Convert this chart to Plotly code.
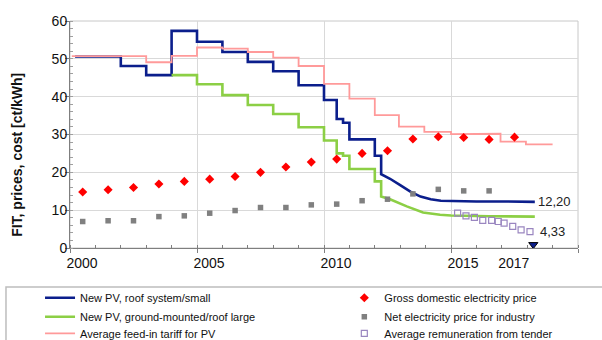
import plotly.graph_objects as go

# ---- data ----
roof_x = [2000.2, 2002.0, 2002.0, 2003.0, 2003.0, 2004.0, 2004.0, 2005.0, 2005.0, 2006.0, 2006.0,
          2007.0, 2007.0, 2008.0, 2008.0, 2009.0, 2009.0, 2010.0, 2010.0, 2010.5, 2010.5, 2010.75,
          2010.75, 2011.0, 2011.0, 2012.0, 2012.0, 2012.25, 2012.25, 2012.6, 2013.0, 2013.4,
          2013.8, 2014.2, 2014.6, 2015.0, 2016.0, 2017.0, 2018.3]
roof_y = [50.6, 50.6, 48.1, 48.1, 45.7, 45.7, 57.4, 57.4, 54.5, 54.5, 51.8,
          51.8, 49.2, 49.2, 46.7, 46.7, 43.0, 43.0, 39.1, 39.1, 34.1, 34.1,
          33.1, 33.1, 28.7, 28.7, 24.4, 24.4, 19.5, 18.3, 16.6, 14.9,
          13.6, 12.9, 12.5, 12.4, 12.3, 12.3, 12.2]

ground_x = [2004.0, 2005.0, 2005.0, 2006.0, 2006.0, 2007.0, 2007.0, 2008.0, 2008.0, 2009.0, 2009.0,
            2010.0, 2010.0, 2010.5, 2010.5, 2010.75, 2010.75, 2011.0, 2011.0, 2012.0, 2012.0,
            2012.25, 2012.25, 2012.6, 2013.26, 2013.9, 2014.57, 2015.0, 2016.5, 2018.3]
ground_y = [45.7, 45.7, 43.3, 43.3, 40.4, 40.4, 37.8, 37.8, 35.4, 35.4, 31.9,
            31.9, 28.4, 28.4, 25.0, 25.0, 24.4, 24.4, 20.9, 20.9, 17.6,
            17.6, 13.6, 12.9, 11.0, 9.4, 8.8, 8.6, 8.4, 8.3]

fit_x = [2000.07, 2003.0, 2003.0, 2004.0, 2004.0, 2005.0, 2005.0, 2006.0, 2006.0, 2007.0, 2007.0,
         2008.0, 2008.0, 2009.0, 2009.0, 2010.0, 2010.0, 2011.0, 2011.0, 2012.0, 2012.0,
         2012.95, 2012.95, 2013.95, 2013.95, 2015.0, 2015.0, 2015.95, 2015.95, 2016.95, 2016.95,
         2017.95, 2017.95, 2019.0]
fit_y = [50.7, 50.7, 49.1, 49.1, 50.8, 50.8, 53.0, 53.0, 52.7, 52.7, 51.8,
         51.8, 50.3, 50.3, 48.1, 48.1, 43.4, 43.4, 39.5, 39.5, 35.1,
         35.1, 32.1, 32.1, 30.7, 30.7, 30.1, 30.1, 30.2, 30.2, 28.1,
         28.1, 27.4, 27.4]

gross_x = [2000.5, 2001.5, 2002.5, 2003.5, 2004.5, 2005.5, 2006.5, 2007.5, 2008.5,
           2009.5, 2010.5, 2011.5, 2012.5, 2013.5, 2014.5, 2015.5, 2016.5, 2017.5]
gross_y = [14.8, 15.4, 16.0, 16.9, 17.6, 18.2, 18.9, 20.0, 21.4,
           22.7, 23.5, 25.0, 25.7, 28.8, 29.4, 29.2, 28.7, 29.3]

net_x = [2000.5, 2001.5, 2002.5, 2003.5, 2004.5, 2005.5, 2006.5, 2007.5, 2008.5,
         2009.5, 2010.5, 2011.5, 2012.5, 2013.5, 2014.5, 2015.5, 2016.5]
net_y = [7.0, 7.2, 7.2, 8.3, 8.5, 9.2, 9.9, 10.7, 10.7,
         11.4, 11.6, 12.5, 12.9, 14.3, 15.5, 15.1, 15.1]

tender_x = [2015.26, 2015.59, 2015.92, 2016.25, 2016.6, 2016.86, 2017.09, 2017.43, 2017.76, 2018.11]
tender_y = [9.2, 8.5, 8.1, 7.3, 7.3, 7.0, 6.6, 5.7, 4.8, 4.33]

marker_x = [2018.24]
marker_y = [0.9]

x_label_vals = [2000, 2005, 2010, 2015, 2017]
x_label_text = ["2000", "2005", "2010", "2015", "2017"]
x_grid_vals = [2000, 2005, 2010, 2015, 2020]

NAVY = "#0B1E8C"
GREEN = "#8CCF45"
PINK = "#FF9A9A"
RED = "#FF0000"
GRAY = "#808080"
PURPLE = "#9A86C0"

fig = go.Figure()
fig.add_trace(go.Scatter(x=roof_x, y=roof_y, mode="lines", name="New PV, roof system/small",
                         line=dict(color=NAVY, width=2.6), legend="legend"))
fig.add_trace(go.Scatter(x=ground_x, y=ground_y, mode="lines", name="New PV, ground-mounted/roof large",
                         line=dict(color=GREEN, width=2.6), legend="legend2"))
fig.add_trace(go.Scatter(x=fit_x, y=fit_y, mode="lines", name="Average feed-in tariff for PV",
                         line=dict(color=PINK, width=1.8), legend="legend3"))
fig.add_trace(go.Scatter(x=gross_x, y=gross_y, mode="markers", name="Gross domestic electricity price",
                         marker=dict(symbol="diamond", color=RED, size=7), legend="legend4"))
fig.add_trace(go.Scatter(x=net_x, y=net_y, mode="markers", name="Net electricity price for industry",
                         marker=dict(symbol="square", color=GRAY, size=5.5), legend="legend5"))
fig.add_trace(go.Scatter(x=tender_x, y=tender_y, mode="markers", name="Average remuneration from tender",
                         marker=dict(symbol="square-open", color=PURPLE, size=6, line=dict(width=1.2)),
                         legend="legend6"))
fig.add_trace(go.Scatter(x=marker_x, y=marker_y, mode="markers", showlegend=False,
                         marker=dict(symbol="triangle-down", color=NAVY, size=8,
                                     line=dict(color="#000000", width=1))))
# dummy trace to activate xaxis2 (5-year grid and ticks)
fig.add_trace(go.Scatter(x=[2000], y=[None], xaxis="x2", showlegend=False, hoverinfo="skip"))

fig.add_annotation(x=roof_x[-1] + 0.05, y=roof_y[-1], text="12,20", showarrow=False,
                   xanchor="left", yanchor="middle", font=dict(size=13, color="#222222"))
fig.add_annotation(x=tender_x[-1] + 0.3, y=tender_y[-1], text="4,33", showarrow=False,
                   xanchor="left", yanchor="middle", font=dict(size=13, color="#222222"))

fig.add_annotation(x=-0.104, y=0.411, xref="paper", yref="paper", text="<b>FIT, prices, cost [ct/kWh]</b>",
                   textangle=-90, showarrow=False, xanchor="center", yanchor="middle",
                   font=dict(size=14, color="#111111"))

# frame (top/right) and legend box
fig.add_shape(type="rect", xref="paper", yref="paper", x0=0, x1=1, y0=0, y1=1,
              line=dict(color="#C8C8C8", width=1), layer="below")
fig.add_shape(type="rect", xref="paper", yref="paper", x0=-0.126, x1=1.06, y0=-0.45, y1=-0.172,
              line=dict(color="#BDBDBD", width=1.5))

leg_common = dict(orientation="v", xanchor="left", yanchor="middle", bgcolor="rgba(0,0,0,0)",
                  font=dict(size=11))
col_x = [-0.059, 0.540]
row_y = [-0.219, -0.303, -0.376]

fig.update_layout(
    width=602, height=340,
    margin=dict(l=70, r=24, t=21, b=92, autoexpand=False),
    paper_bgcolor="white", plot_bgcolor="white",
    font=dict(family="Liberation Sans, Arial, sans-serif", color="#111111"),
    showlegend=True,
    legend=dict(x=col_x[0], y=row_y[0], **leg_common),
    legend2=dict(x=col_x[0], y=row_y[1], **leg_common),
    legend3=dict(x=col_x[0], y=row_y[2], **leg_common),
    legend4=dict(x=col_x[1], y=row_y[0], **leg_common),
    legend5=dict(x=col_x[1], y=row_y[1], **leg_common),
    legend6=dict(x=col_x[1], y=row_y[2], **leg_common),
    xaxis=dict(range=[2000, 2020], tickmode="array", tickvals=x_label_vals, ticktext=x_label_text,
               ticks="", showgrid=False, showline=True, linecolor="#7F7F7F", linewidth=1,
               tickfont=dict(size=14), ticklabelshift=12, ticklabelstandoff=2, zeroline=False,
               minor=dict(dtick=1, tick0=2000, ticks="inside", ticklen=3, tickcolor="#7F7F7F",
                          showgrid=False)),
    xaxis2=dict(range=[2000, 2020], overlaying="x", tickmode="array", tickvals=x_grid_vals,
                showticklabels=False, ticks="outside", ticklen=4, tickcolor="#7F7F7F",
                showgrid=True, gridcolor="#D9D9D9", gridwidth=1,
                showline=False, zeroline=False, side="bottom"),
    yaxis=dict(range=[0, 60], dtick=10, ticks="outside", ticklen=4, tickcolor="#7F7F7F",
               showgrid=True, gridcolor="#D9D9D9", gridwidth=1, showline=True, linecolor="#7F7F7F",
               linewidth=1, tickfont=dict(size=14), zeroline=False, ticklabelstandoff=-5,
               minor=dict(dtick=2, ticks="inside", ticklen=3, tickcolor="#9F9F9F", showgrid=False)),
)

fig.write_html("out.html", config={"displayModeBar": False},
               post_script="document.body.style.margin='0px';")
